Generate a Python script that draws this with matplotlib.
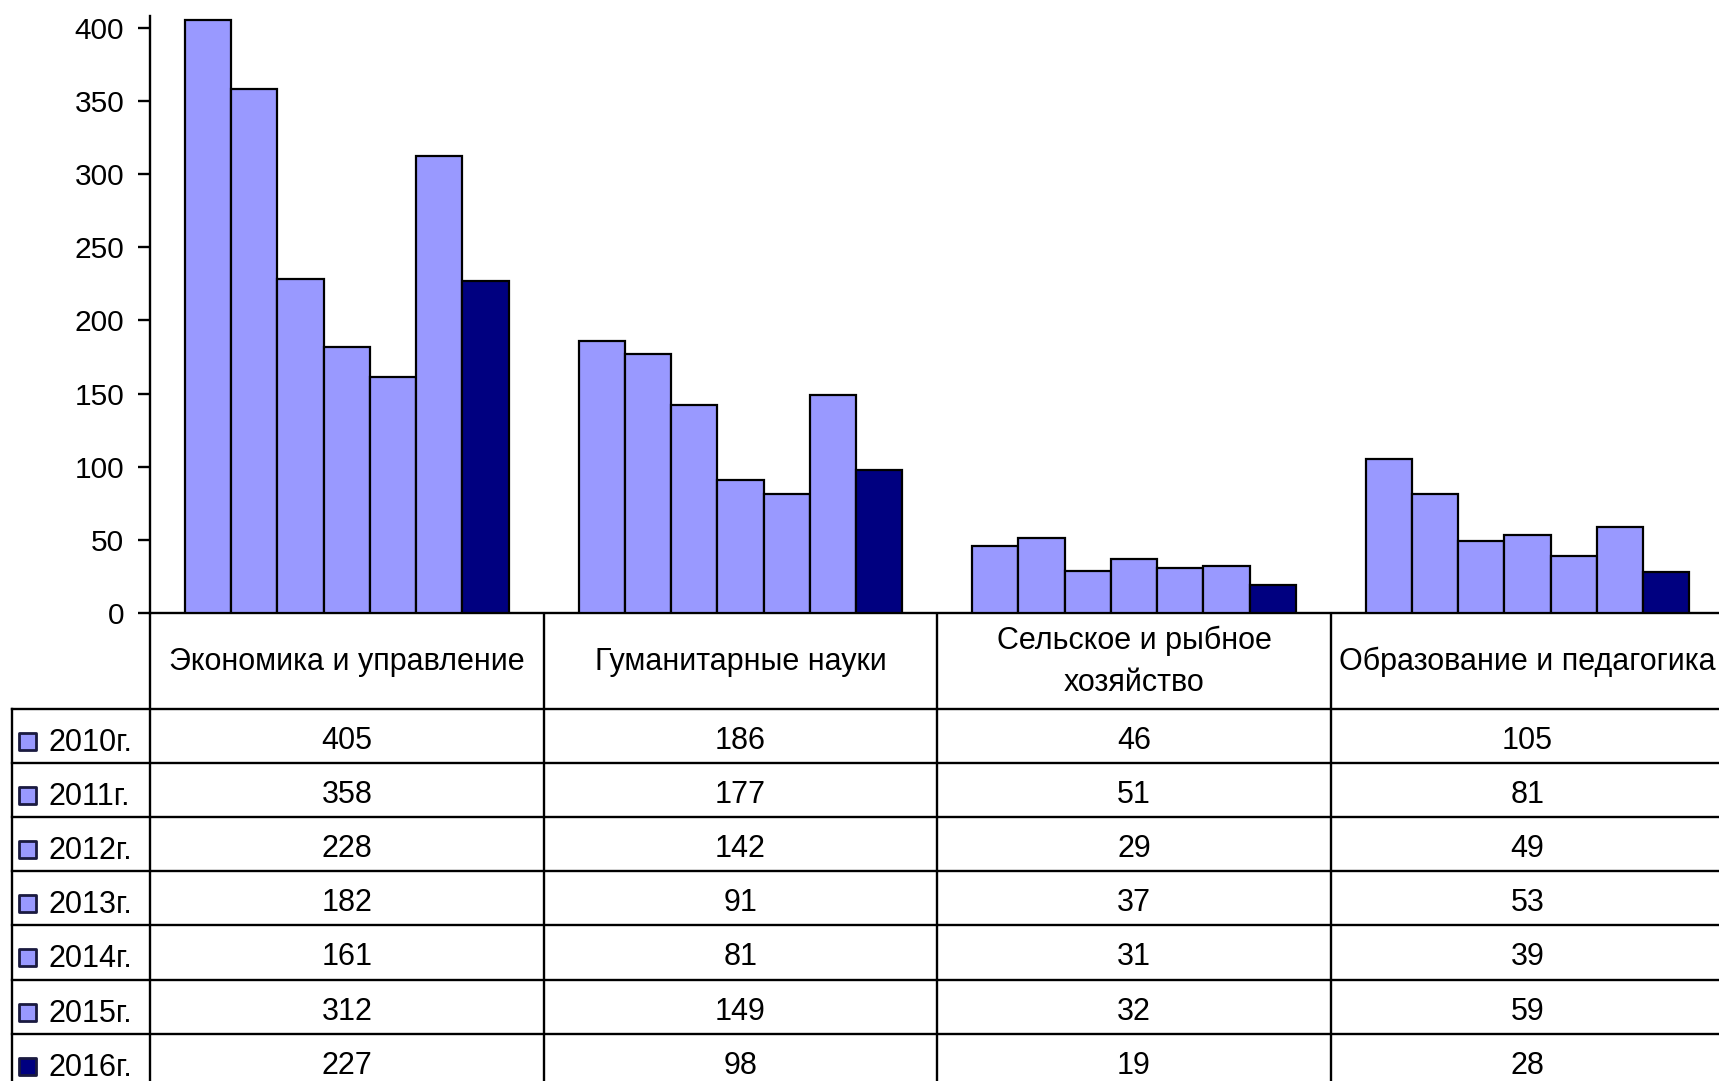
import matplotlib
matplotlib.use("Agg")
import matplotlib.pyplot as plt
from matplotlib.patches import Rectangle
from matplotlib.transforms import blended_transform_factory
import numpy as np

plt.rcParams['font.family'] = ['Liberation Sans', 'DejaVu Sans']

# ---- data ----
categories = ["Экономика и управление", "Гуманитарные науки",
              "Сельское и рыбное\nхозяйство", "Образование и педагогика"]
years = ["2010г.", "2011г.", "2012г.", "2013г.", "2014г.", "2015г.", "2016г."]
v2010 = [405, 186, 46, 105]
v2011 = [358, 177, 51, 81]
v2012 = [228, 142, 29, 49]
v2013 = [182, 91, 37, 53]
v2014 = [161, 81, 31, 39]
v2015 = [312, 149, 32, 59]
v2016 = [227, 98, 19, 28]
series = [v2010, v2011, v2012, v2013, v2014, v2015, v2016]
y_ticks = [0, 50, 100, 150, 200, 250, 300, 350, 400]

light = '#9999FF'
dark = '#000080'
colors = [light] * 6 + [dark]

W, H = 1719, 1081
fig = plt.figure(figsize=(W / 100, H / 100), dpi=100)
fig.patch.set_facecolor('white')

# plot area in pixel geometry
x0, xw = 150, 4 * 393.6
y_zero, y_top = 613, 16
ax = fig.add_axes([x0 / W, (H - y_zero) / H, xw / W, (y_zero - y_top) / H])
ax.set_xlim(-0.5, 3.5)
ax.set_ylim(0, 408)

n = len(series)
bw = 0.1175
x = np.arange(len(categories))
for i, vals in enumerate(series):
    ax.bar(x + (i - (n - 1) / 2) * bw, vals, width=bw, color=colors[i],
           edgecolor='black', linewidth=1.6, zorder=3)

for s in ['top', 'right']:
    ax.spines[s].set_visible(False)
ax.spines['left'].set_linewidth(1.7)
ax.spines['bottom'].set_linewidth(1.7)
ax.set_xticks([])
ax.set_yticks(y_ticks)
ax.tick_params(axis='y', direction='out', length=8.5, width=1.7, pad=10,
               labelsize=21.5)
ax.set_facecolor('none')

# ---- data table below ----
tax = fig.add_axes([0, 0, 1, 1], zorder=-1)
tax.set_xlim(0, W)
tax.set_ylim(H, 0)
tax.axis('off')
tr = blended_transform_factory(ax.transData, tax.transData)

edges = np.arange(len(categories) + 1) - 0.5
header_bottom = 709
row_h = 54.1
row_tops = [header_bottom + k * row_h for k in range(len(years) + 1)]
bottom = row_tops[-1]
lw = 1.7
fs = 22

# vertical lines
for e in edges:
    tax.plot([e, e], [y_zero, bottom], color='black', lw=lw, transform=tr,
             clip_on=False, solid_capstyle='butt')
tax.plot([12, 12], [header_bottom, bottom], color='black', lw=lw)
# horizontal lines
for yt in row_tops:
    tax.plot([12, W + 20], [yt, yt], color='black', lw=lw)

# headers
for j, c in enumerate(categories):
    tax.text(j, (y_zero + header_bottom) / 2 + 1, c, transform=tr,
             ha='center', va='center', fontsize=fs, linespacing=1.5)

# rows
for i, (yr, vals) in enumerate(zip(years, series)):
    cy = row_tops[i] + row_h / 2
    tax.add_patch(Rectangle((19, cy - 3), 17, 17, facecolor=colors[i],
                            edgecolor='#1a1a40', lw=2.0, joinstyle='round'))
    tax.text(48, cy + 7, yr, ha='left', va='center', fontsize=fs)
    for j, v in enumerate(vals):
        tax.text(j, cy + 5, str(v), transform=tr, ha='center', va='center',
                 fontsize=fs)

fig.savefig('out.png', dpi=100, facecolor='white')
